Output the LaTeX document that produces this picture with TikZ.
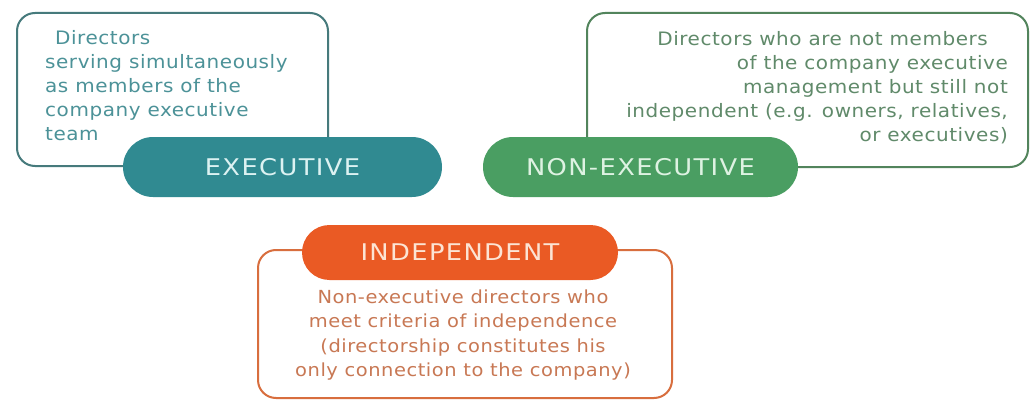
\documentclass[tikz,border=0pt]{standalone}
\usepackage{fontspec}
\setmainfont{DejaVu Sans}[LetterSpace=3,FakeStretch=1.08]
\newfontfamily\pillfont{DejaVu Sans}[LetterSpace=6,FakeStretch=1.12]
\definecolor{exfill}{RGB}{48,138,145}
\definecolor{nefill}{RGB}{74,158,98}
\definecolor{infill}{RGB}{234,90,36}
\definecolor{exline}{RGB}{70,122,124}
\definecolor{neline}{RGB}{82,132,92}
\definecolor{inline}{RGB}{216,110,62}
\definecolor{extext}{RGB}{76,146,152}
\definecolor{netext}{RGB}{96,138,106}
\definecolor{intext}{RGB}{200,120,84}
\definecolor{expilltext}{RGB}{220,242,242}
\definecolor{nepilltext}{RGB}{222,242,226}
\definecolor{inpilltext}{RGB}{252,228,212}
\begin{document}
\begin{tikzpicture}[x=1pt,y=-1pt,
  outbox/.style={draw, line width=2pt, rounded corners=18pt, fill=white, inner sep=0pt},
  pill/.style={rounded corners=30pt, inner sep=0pt, font=\pillfont\fontsize{23}{28}\selectfont},
  body/.style={inner sep=0pt, font=\fontsize{18.5}{24}\selectfont}]
\useasboundingbox (0,0) rectangle (1030,401);
\fill[white] (0,0) rectangle (1030,401);
% boxes
\node[outbox, draw=exline, minimum width=311pt, minimum height=153pt] (exbox) at (172.5,89.5) {};
\node[outbox, draw=neline, minimum width=441pt, minimum height=154pt] (nebox) at (807.5,90) {};
\node[outbox, draw=inline, minimum width=414pt, minimum height=148pt] (inbox) at (465,324) {};
% pills
\node[pill, fill=exfill, text=expilltext, minimum width=319pt, minimum height=60pt] (expill) at (282.5,167) {EXECUTIVE};
\node[pill, fill=nefill, text=nepilltext, minimum width=315pt, minimum height=60pt] (nepill) at (640.5,167) {NON-EXECUTIVE};
\node[pill, rounded corners=27.5pt, fill=infill, text=inpilltext, minimum width=316pt, minimum height=55pt] (inpill) at (460,252.5) {INDEPENDENT};
% texts
\node[body, text=extext, align=left, anchor=north west] (extxt) at (45,30.5)
  {\hspace*{10pt}Directors\\serving simultaneously\\as members of the\\company executive\\team};
\node[body, text=netext, align=right, anchor=north east] (netxt) at (1008,30.8)
  {Directors who are not members\hspace*{20pt}\\of the company executive\\management but still not\\independent (e.g. owners, relatives,\\or executives)};
\node[body, text=intext, align=center, anchor=north, font=\fontsize{18}{24.5}\selectfont] (intxt) at (463,289.2)
  {Non-executive directors who\\meet criteria of independence\\(directorship constitutes his\\only connection to the company)};
\end{tikzpicture}
\end{document}
